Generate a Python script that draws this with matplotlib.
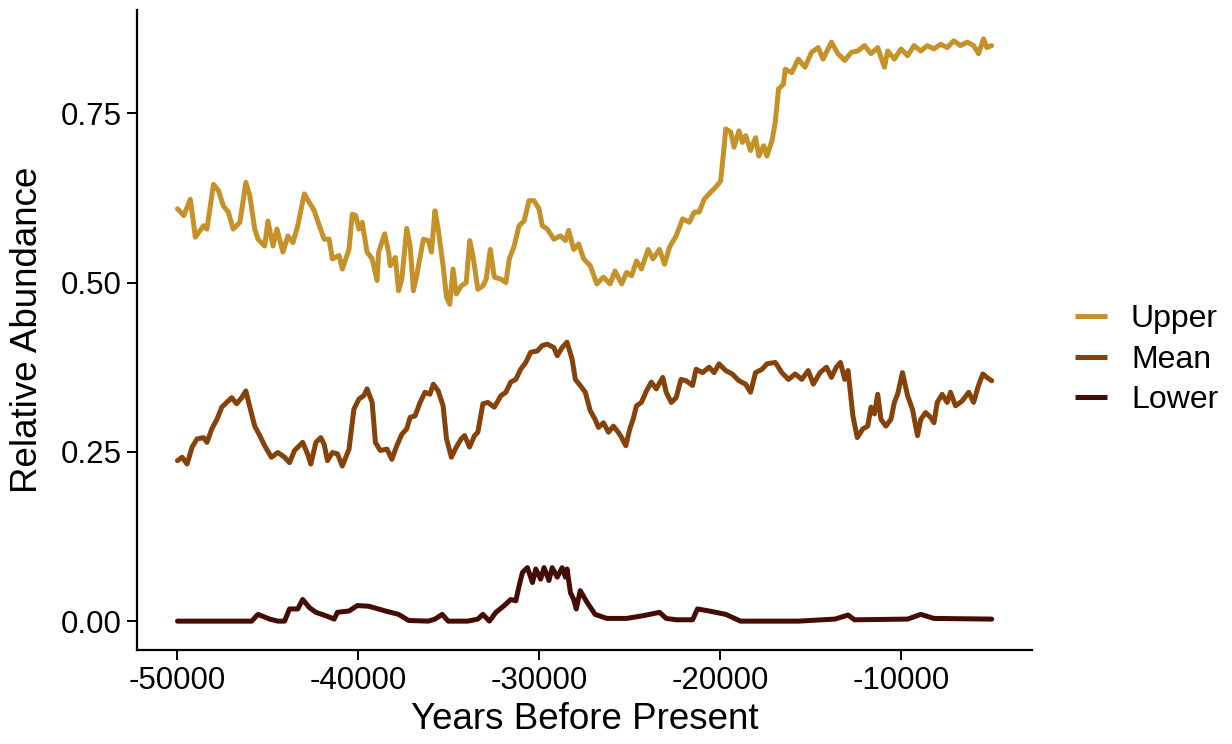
import matplotlib
matplotlib.use("Agg")
import matplotlib.pyplot as plt

plt.rcParams['font.family'] = ['Liberation Sans', 'DejaVu Sans']

# relative abundance through time (years before present)
upper_years = [
    -50000, -49650, -49290, -49010, -48560, -48370, -48010, -47740, -47460, -47190,
    -46920, -46550, -46220, -46000, -45730, -45550, -45180, -45000, -44720, -44500,
    -44170, -43900, -43620, -43350, -42990, -42710, -42440, -42160, -41890, -41620,
    -41440, -41070, -40890, -40520, -40340, -40150, -39970, -39790, -39520, -39240,
    -38970, -38880, -38550, -38330, -38240, -37960, -37780, -37600, -37330, -37140,
    -36960, -36780, -36410, -36140, -35960, -35770, -35590, -35320, -35130, -34950,
    -34770, -34590, -34320, -34040, -33850, -33670, -33400, -33120, -32940, -32710,
    -32490, -32120, -31850, -31660, -31390, -31120, -30840, -30570, -30300, -30020,
    -29840, -29560, -29200, -28840, -28560, -28380, -28100, -27830, -27550, -27190,
    -26820, -26460, -26090, -25820, -25450, -25180, -24900, -24630, -24360, -23990,
    -23720, -23360, -23080, -22810, -22440, -22080, -21710, -21440, -21170, -20890,
    -20620, -20250, -19980, -19800, -19700, -19420, -19240, -18970, -18780, -18600,
    -18330, -18050, -17870, -17600, -17420, -17140, -16960, -16780, -16510, -16410,
    -16050, -15690, -15320, -14960, -14590, -14320, -13860, -13500, -13120, -12760,
    -12400, -12030, -11670, -11300, -10930, -10750, -10380, -10010, -9650, -9290,
    -8920, -8560, -8190, -7820, -7460, -7100, -6730, -6360, -6000, -5730,
    -5450, -5270, -5000,
]
upper_vals = [
    0.609, 0.599, 0.623, 0.567, 0.584, 0.579, 0.645, 0.636, 0.613, 0.604,
    0.579, 0.589, 0.648, 0.628, 0.579, 0.564, 0.554, 0.591, 0.554, 0.579,
    0.545, 0.569, 0.559, 0.584, 0.631, 0.618, 0.606, 0.584, 0.564, 0.564,
    0.535, 0.540, 0.520, 0.549, 0.601, 0.599, 0.579, 0.589, 0.545, 0.535,
    0.503, 0.545, 0.572, 0.545, 0.525, 0.537, 0.488, 0.505, 0.580, 0.554,
    0.488, 0.510, 0.564, 0.562, 0.545, 0.606, 0.579, 0.525, 0.478, 0.468,
    0.520, 0.483, 0.495, 0.500, 0.562, 0.540, 0.490, 0.495, 0.505, 0.549,
    0.508, 0.505, 0.500, 0.535, 0.554, 0.584, 0.591, 0.621, 0.621, 0.609,
    0.584, 0.579, 0.564, 0.569, 0.562, 0.577, 0.549, 0.557, 0.535, 0.525,
    0.498, 0.508, 0.498, 0.517, 0.498, 0.515, 0.510, 0.532, 0.520, 0.549,
    0.535, 0.549, 0.527, 0.552, 0.569, 0.594, 0.589, 0.604, 0.604, 0.623,
    0.631, 0.641, 0.650, 0.697, 0.727, 0.722, 0.700, 0.724, 0.707, 0.717,
    0.695, 0.714, 0.687, 0.702, 0.687, 0.710, 0.737, 0.786, 0.793, 0.815,
    0.810, 0.830, 0.818, 0.840, 0.847, 0.830, 0.855, 0.838, 0.828, 0.840,
    0.842, 0.850, 0.838, 0.847, 0.818, 0.842, 0.830, 0.845, 0.835, 0.850,
    0.842, 0.850, 0.845, 0.852, 0.847, 0.857, 0.850, 0.855, 0.850, 0.838,
    0.860, 0.847, 0.850,
]

mean_years = [
    -50000, -49740, -49470, -49190, -48920, -48560, -48370, -48100, -47820, -47550,
    -47280, -47000, -46730, -46450, -46220, -46000, -45730, -45450, -45180, -44810,
    -44450, -44080, -43810, -43530, -43080, -42810, -42630, -42350, -42080, -41890,
    -41710, -41440, -41160, -40890, -40520, -40250, -39970, -39700, -39520, -39240,
    -39060, -38790, -38420, -38150, -37880, -37600, -37330, -37140, -36870, -36590,
    -36320, -36050, -35860, -35590, -35320, -35130, -34860, -34590, -34320, -34130,
    -33860, -33580, -33400, -33120, -32850, -32490, -32120, -31850, -31580, -31300,
    -31030, -30750, -30480, -30110, -29840, -29560, -29200, -29010, -28740, -28470,
    -28190, -28010,
    -27740, -27460, -27190, -26920, -26730, -26460, -26180, -25910, -25640, -25450,
    -25220, -25000, -24820, -24630, -24360, -24080, -23810, -23540, -23180, -22990,
    -22710, -22440, -22170, -21890, -21530, -21340, -20980, -20620, -20340, -20070,
    -19700, -19340, -18970, -18600, -18330, -18050, -17690, -17420, -16960, -16600,
    -16230, -15860, -15500, -15140, -14860, -14490, -14130, -13860, -13590, -13360,
    -13120, -12940, -12670, -12430, -12120, -11850, -11670, -11480, -11300, -11120,
    -10850, -10570, -10380, -10200, -9930, -9650, -9380, -9100, -8920, -8650,
    -8380, -8190, -8010, -7740, -7460, -7280, -7000, -6640, -6270, -6000,
    -5730, -5490, -5270, -5000,
]
mean_vals = [
    0.237, 0.242, 0.232, 0.257, 0.269, 0.271, 0.264, 0.284, 0.298, 0.316,
    0.323, 0.330, 0.321, 0.330, 0.340, 0.316, 0.288, 0.274, 0.259, 0.242,
    0.249, 0.242, 0.234, 0.252, 0.264, 0.247, 0.232, 0.264, 0.271, 0.261,
    0.237, 0.249, 0.247, 0.229, 0.254, 0.313, 0.328, 0.333, 0.343, 0.323,
    0.264, 0.252, 0.254, 0.239, 0.259, 0.276, 0.284, 0.301, 0.303, 0.323,
    0.338, 0.335, 0.350, 0.340, 0.318, 0.269, 0.242, 0.257, 0.269, 0.274,
    0.257, 0.274, 0.279, 0.321, 0.323, 0.316, 0.333, 0.338, 0.353, 0.357,
    0.372, 0.382, 0.397, 0.399, 0.407, 0.409, 0.404, 0.392, 0.404, 0.412,
    0.387, 0.357,
    0.348, 0.338, 0.311, 0.298, 0.286, 0.293, 0.279, 0.288, 0.279, 0.271,
    0.259, 0.284, 0.298, 0.318, 0.323, 0.340, 0.353, 0.343, 0.360, 0.338,
    0.323, 0.330, 0.357, 0.355, 0.348, 0.372, 0.367, 0.375, 0.367, 0.380,
    0.370, 0.365, 0.355, 0.350, 0.338, 0.367, 0.372, 0.380, 0.382, 0.367,
    0.357, 0.365, 0.357, 0.370, 0.350, 0.367, 0.375, 0.360, 0.375, 0.382,
    0.357, 0.370, 0.303, 0.271, 0.284, 0.288, 0.316, 0.306, 0.335, 0.298,
    0.288, 0.298, 0.323, 0.335, 0.367, 0.333, 0.313, 0.274, 0.298, 0.308,
    0.301, 0.293, 0.323, 0.335, 0.323, 0.338, 0.318, 0.325, 0.338, 0.323,
    0.348, 0.365, 0.360, 0.355,
]

lower_years = [
    -50000, -45900, -45550, -44900, -44450, -44080, -43810, -43350, -43080, -42710,
    -42350, -41800, -41340, -41160, -40520, -40060, -39420, -38510, -37780, -37230,
    -36140, -35770, -35370, -35040, -33950, -33400, -33120, -32760, -32400, -31940,
    -31580, -31300, -31120, -30930, -30660, -30380, -30200, -29930, -29740, -29470,
    -29290, -29010, -28740, -28560, -28470, -28280, -28100, -27960, -27740, -27370,
    -26920, -26270, -25180, -24270, -23360, -22990, -22440, -21530, -21260, -20620,
    -19700, -18880, -15690, -13670, -12940, -12580, -9650, -8920, -8190, -5000,
]
lower_vals = [
    0.000, 0.000, 0.010, 0.003, 0.000, 0.000, 0.018, 0.018, 0.032, 0.020,
    0.013, 0.008, 0.003, 0.013, 0.015, 0.023, 0.022, 0.015, 0.010, 0.001,
    0.000, 0.003, 0.010, 0.000, 0.000, 0.003, 0.010, 0.000, 0.013, 0.023,
    0.032, 0.030, 0.052, 0.072, 0.079, 0.057, 0.077, 0.062, 0.079, 0.060,
    0.079, 0.065, 0.079, 0.065, 0.077, 0.042, 0.032, 0.018, 0.045, 0.028,
    0.010, 0.004, 0.004, 0.008, 0.013, 0.004, 0.002, 0.002, 0.018, 0.015,
    0.010, 0.000, 0.000, 0.003, 0.009, 0.002, 0.003, 0.010, 0.004, 0.003,
]

series_names = ['Upper', 'Mean', 'Lower']
series_colors = ['#C5922A', '#86420B', '#440C04']
y_ticks = [0.00, 0.25, 0.50, 0.75]
y_tick_labels = ['0.00', '0.25', '0.50', '0.75']
x_ticks = [-50000, -40000, -30000, -20000, -10000]

fig = plt.figure(figsize=(12.32, 7.44), dpi=100)
ax = fig.add_axes([0.111, 0.126, 0.727, 0.861])

data = [(upper_years, upper_vals), (mean_years, mean_vals), (lower_years, lower_vals)]
for (xs, ys), name, col in zip(data, series_names, series_colors):
    ax.plot(xs, ys, color=col, lw=3.6, label=name,
            solid_joinstyle='round', solid_capstyle='round')

ax.set_xlim(-52250, -2750)
ax.set_ylim(-0.043, 0.903)
ax.set_xticks(x_ticks)
ax.set_xticklabels([str(t) for t in x_ticks])
ax.set_yticks(y_ticks)
ax.set_yticklabels(y_tick_labels)

for side in ['top', 'right']:
    ax.spines[side].set_visible(False)
for side in ['left', 'bottom']:
    ax.spines[side].set_linewidth(1.6)
ax.tick_params(axis='both', length=7, width=1.4, color='black',
               labelsize=22.5, labelcolor='black', pad=4)

ax.set_xlabel('Years Before Present', fontsize=26.5, labelpad=5)
ax.set_ylabel('Relative Abundance', fontsize=26.5, labelpad=11)

leg = fig.legend(loc='center left', bbox_to_anchor=(0.8726, 0.5165),
                 frameon=False, fontsize=23, handlelength=1.0,
                 handletextpad=0.75, labelspacing=0.33, borderpad=0,
                 borderaxespad=0)
for h in leg.get_lines():
    h.set_linewidth(3.6)
    h.set_solid_capstyle('butt')

fig.savefig('out.png', dpi=100)
